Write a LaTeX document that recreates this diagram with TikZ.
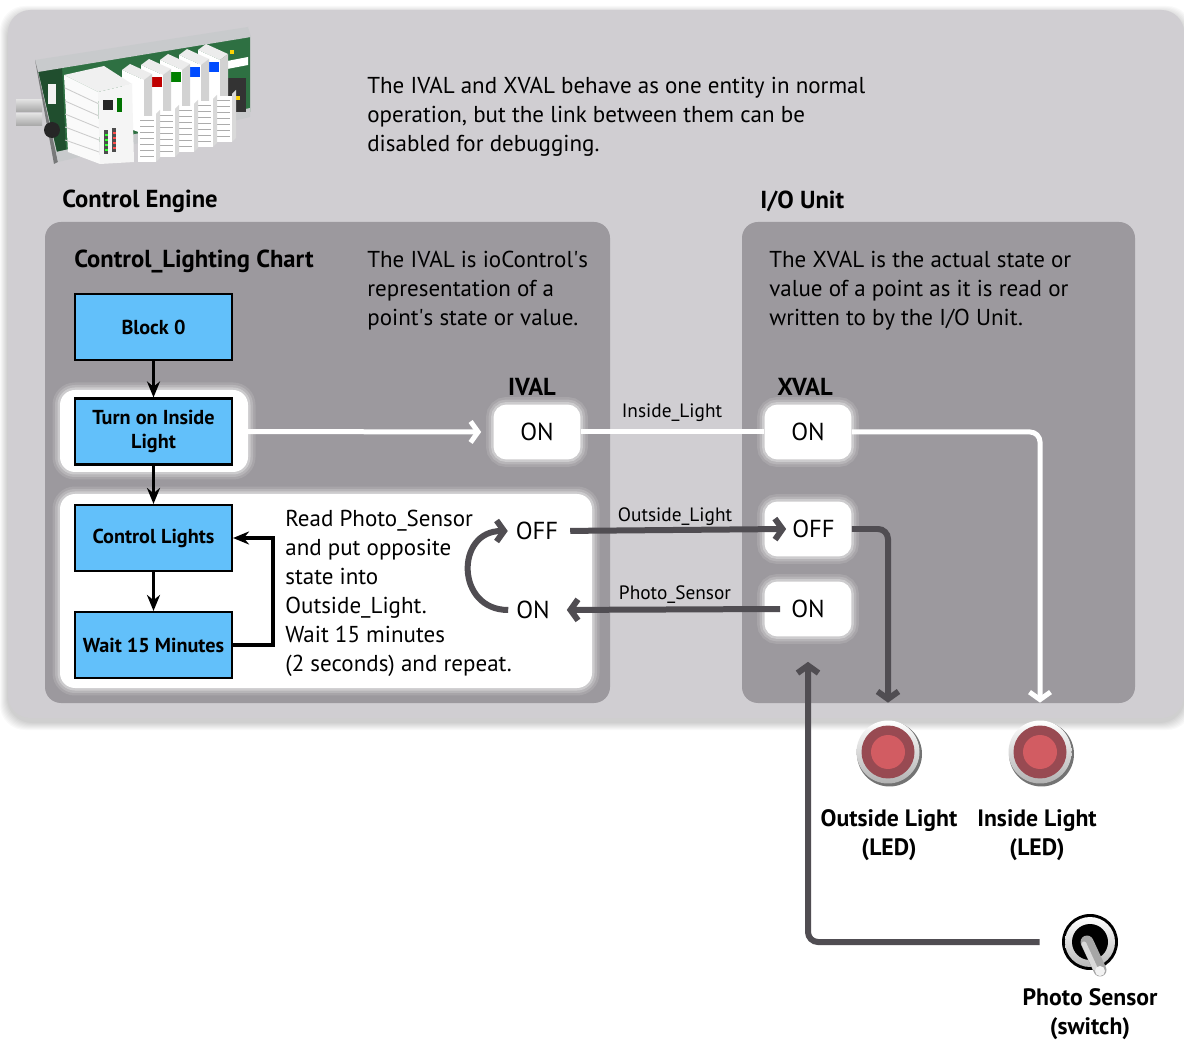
\documentclass[tikz,border=0pt]{standalone}
\usepackage{fontspec}
\setmainfont{PT Sans}
\usetikzlibrary{arrows.meta,calc}

\definecolor{outerbg}{RGB}{208,206,210}
\definecolor{panelbg}{RGB}{156,153,158}
\definecolor{flowblue}{RGB}{98,192,250}
\definecolor{wire}{RGB}{80,77,82}
\definecolor{ledred}{RGB}{210,92,98}
\definecolor{leddark}{RGB}{152,74,82}
\definecolor{pcb}{RGB}{46,112,66}
\definecolor{rail}{RGB}{200,202,204}

\begin{document}
\begin{tikzpicture}[x=0.02cm,y=-0.02cm,
  bodytext/.style={font=\fontsize{13.1}{16.5}\selectfont, align=left, inner sep=0pt, anchor=west},
  headtext/.style={font=\bfseries\fontsize{14}{17}\selectfont, inner sep=0pt},
  wirelabel/.style={font=\fontsize{11}{13}\selectfont, inner sep=0pt},
  flowbox/.style={draw=black, line width=1.2pt, fill=flowblue, minimum width=3.14cm,
    minimum height=1.32cm, align=center, inner sep=1pt, font=\bfseries\fontsize{11.5}{14}\selectfont},
  glow/.style={preaction={draw=white, opacity=0.12, line width=0.3cm},
               preaction={draw=white, opacity=0.18, line width=0.2cm},
               preaction={draw=white, opacity=0.3, line width=0.1cm}},
  valbox/.style={fill=white, glow, rounded corners=0.26cm, minimum width=1.74cm, minimum height=1.1cm,
    font=\fontsize{14}{16}\selectfont},
  valtext/.style={font=\fontsize{14}{16}\selectfont, inner sep=1pt},
  flowarrow/.style={line width=1.8pt, -{Stealth[length=0.32cm,width=0.26cm]}},
  chev/.style={-{Straight Barb[length=0.15cm,width=0.42cm]}},
  whitewire/.style={draw=white, line width=0.1cm},
  darkwire/.style={draw=wire, line width=0.12cm},
  ledlabel/.style={font=\bfseries\fontsize{13.5}{16.4}\selectfont, align=center, inner sep=0pt},
  ledspot/.style={circle, minimum size=1.28cm, inner sep=0pt},
]
\fill[white] (0,0) rectangle (1184,1040);
\useasboundingbox (0,0) rectangle (1184,1040);

% soft shadow and outer tray
\foreach \k in {1,...,8}
  \fill[black, opacity=0.025, rounded corners=0.5cm] (8-\k,10-\k+4) rectangle (1184+\k,718+\k+4);
\fill[outerbg, rounded corners=0.45cm] (8,10) rectangle (1184,718);

% controller hardware sketch
\begin{scope}
  \fill[pcb] (38,70) -- (250,36) -- (250,112) -- (58,156) -- cycle;
  \fill[pcb!70!black] (38,70) -- (62,66) -- (66,150) -- (58,156) -- cycle;
  \fill[rail] (35,60) -- (248,27) -- (251,37) -- (38,72) -- cycle;
  \fill[rail!60!black] (35,60) -- (38,72) -- (58,162) -- (54,164) -- cycle;
  \fill[rail] (56,152) -- (250,108) -- (250,117) -- (58,162) -- cycle;
  \fill[black!80] (228,78) rectangle (246,112);
  \fill[white] (222,62) -- (248,57) -- (248,65) -- (222,70) -- cycle;
  \foreach \cx/\cy in {230/50, 236/96}
    \fill[yellow!70!orange] (\cx,\cy) rectangle ++(4,4);
  \shade[top color=gray!25, bottom color=gray!70] (16,100) rectangle (42,112);
  \shade[top color=gray!25, bottom color=gray!70] (16,114) rectangle (42,126);
  \fill[black!85] (52,130) circle (0.16cm);
  \fill[white!90!gray] (48,84) rectangle (56,104);
  % I/O modules, rightmost first
  \foreach \i/\lab in {4/blue!70!cyan, 3/blue!70!cyan, 2/green!50!black, 1/red!75!black, 0/white} {
    \pgfmathsetmacro{\xo}{122+19*\i}
    \pgfmathsetmacro{\yo}{70-5*\i}
    \fill[gray!15] (\xo,\yo) -- (\xo+8,\yo-6) -- (\xo+30,\yo+4) -- (\xo+22,\yo+10) -- cycle;
    \fill[white] (\xo,\yo) -- (\xo+22,\yo+10) -- (\xo+22,\yo+64) -- (\xo,\yo+56) -- cycle;
    \fill[gray!35] (\xo+22,\yo+10) -- (\xo+30,\yo+4) -- (\xo+30,\yo+58) -- (\xo+22,\yo+64) -- cycle;
    \fill[\lab] (\xo+10,\yo+12) rectangle (\xo+21,\yo+22);
    \fill[white] (\xo+16,\yo+46) rectangle (\xo+34,\yo+92);
    \fill[gray!30] (\xo+34,\yo+44) -- (\xo+38,\yo+40) -- (\xo+38,\yo+88) -- (\xo+34,\yo+92) -- cycle;
    \foreach \r in {0,...,6}
      \draw[gray!65, line width=0.5pt] (\xo+18,\yo+50+6*\r) -- (\xo+32,\yo+50+6*\r);
  }
  % brain module
  \fill[gray!12] (64,75) -- (104,66) -- (132,84) -- (98,92) -- cycle;
  \fill[white!96!gray] (64,75) -- (98,92) -- (100,164) -- (68,152) -- cycle;
  \foreach \r in {1,...,5}
    \draw[gray!40, line width=0.5pt] (65,75+13*\r) -- (99,92+12*\r);
  \fill[white!92!gray] (98,92) -- (132,84) -- (134,162) -- (100,164) -- cycle;
  \fill[black!85] (103,100) rectangle (113,110);
  \fill[green!45!black] (117,98) rectangle (122,112);
  \fill[black!70] (104,130) rectangle (108,154);
  \fill[black!70] (112,128) rectangle (116,152);
  \foreach \r in {0,...,3} {
    \fill[green!80] (104.5,134+5*\r) rectangle (107.5,136+5*\r);
    \fill[red!70] (112.5,132+5*\r) rectangle (115.5,134+5*\r);
  }
\end{scope}

% inner panels
\fill[panelbg, rounded corners=0.32cm] (45,222) rectangle (610,703);
\fill[panelbg, rounded corners=0.32cm] (742,222) rectangle (1135,703);

% headings and notes
\node[headtext, anchor=west] (ceh) at (62,201) {Control Engine};
\node[headtext, anchor=west] (ioh) at (760,201) {I/O Unit};
\node[headtext, anchor=west] (chart) at (74,261) {Control\_Lighting Chart};
\node[bodytext] (topnote) at (367,117) {The IVAL and XVAL behave as one entity in normal\\operation, but the link between them can be\\disabled for debugging.};
\node[bodytext] (ivalnote) at (367,291) {The IVAL is ioControl\textquotesingle s\\representation of a\\point\textquotesingle s state or value.};
\node[bodytext] (xvalnote) at (769,291) {The XVAL is the actual state or\\value of a point as it is read or\\written to by the I/O Unit.};

% white highlights behind the active blocks
\fill[white, glow, rounded corners=0.3cm] (60,390) rectangle (248,472);
\fill[white, glow, rounded corners=0.3cm] (60,494) rectangle (592,688);

% flowchart
\node[flowbox] (b0) at (153.5,327) {Block 0};
\node[flowbox] (turn) at (153.5,431.5) {Turn on Inside\\Light};
\node[flowbox] (ctrl) at (153.5,538) {Control Lights};
\node[flowbox] (wait) at (153.5,645) {Wait 15 Minutes};
\draw[flowarrow] (b0) -- (turn);
\draw[flowarrow] (turn) -- (ctrl);
\draw[flowarrow] (ctrl) -- (wait);
\draw[flowarrow] (wait.east) -- ++(40,0) |- (ctrl.east);

\node[bodytext] (loopnote) at (285,593) {Read Photo\_Sensor\\and put opposite\\state into\\Outside\_Light.\\Wait 15 minutes\\(2 seconds) and repeat.};

% values
\node[headtext] (ivalh) at (532,387) {IVAL};
\node[headtext] (xvalh) at (805,387) {XVAL};
\node[valbox] (ion) at (537,432) {ON};
\node[valtext] (ioff) at (537,531) {OFF};
\node[valtext] (ion2) at (533,610) {ON};
\node[valbox] (xon) at (808,432) {ON};
\node[valbox] (xoff) at (808,529) {\hspace*{0.22cm}OFF};
\node[valbox] (xps) at (808,609) {ON};

% field devices
\node[ledspot] (ledout) at (888,752) {};
\node[ledspot] (ledin) at (1040,752) {};
\foreach \n in {ledout,ledin} {
  \fill[black!55] ([shift={(1.5,2)}]\n.center) circle (0.65cm);
  \shade[top color=white, bottom color=gray!60] (\n.center) circle (0.63cm);
  \fill[leddark] (\n.center) circle (0.53cm);
  \fill[ledred] (\n.center) circle (0.34cm);
}
\node[ledlabel] (ledoutl) at (889,835) {Outside Light\\(LED)};
\node[ledlabel] (ledinl) at (1037,835) {Inside Light\\(LED)};

\node[circle, minimum size=1.08cm, inner sep=0pt] (sw) at (1090,942) {};
\fill[black] (sw.center) circle (0.56cm);
\shade[top color=white, bottom color=gray!55] (sw.center) circle (0.5cm);
\fill[black] (sw.center) circle (0.36cm);
\draw[gray!70, line width=0.26cm, line cap=round] (1087,942) -- (1100,970);
\draw[gray!30, line width=0.1cm, line cap=round] (1084,944) -- (1095,968);
\fill[white!90!gray] (1100,971) circle (0.1cm);
\node[ledlabel] (swl) at (1090,1014) {Photo Sensor\\(switch)};

% wiring
\draw[whitewire, chev, shorten >=0.24cm] (turn.east) -- (ion.west);
\draw[whitewire] (ion) -- (xon);
\draw[whitewire, chev, rounded corners=0.2cm, shorten >=0.34cm] (xon.east) -| (ledin.north);
\draw[darkwire, chev, shorten <=0.2cm] (ioff.east) -- ([xshift=0.44cm]xoff.west);
\draw[darkwire, chev, rounded corners=0.2cm, shorten >=0.34cm] (xoff.east) -| (ledout.north);
\draw[darkwire, chev, shorten >=0.3cm] ([xshift=0.32cm]xps.west) -- (ion2.east);
\draw[darkwire, chev] ([xshift=-0.12cm]ion2.west) to[out=180, in=180, looseness=1.7] ([xshift=-0.12cm]ioff.west);
\draw[darkwire, chev, rounded corners=0.2cm, shorten <=0.46cm, shorten >=0.5cm] (sw.west) -| (xps.south);

\node[wirelabel] (lin) at (672,413) {Inside\_Light};
\node[wirelabel] (lout) at (675,517) {Outside\_Light};
\node[wirelabel] (lps) at (675,595) {Photo\_Sensor};
\end{tikzpicture}
\end{document}
